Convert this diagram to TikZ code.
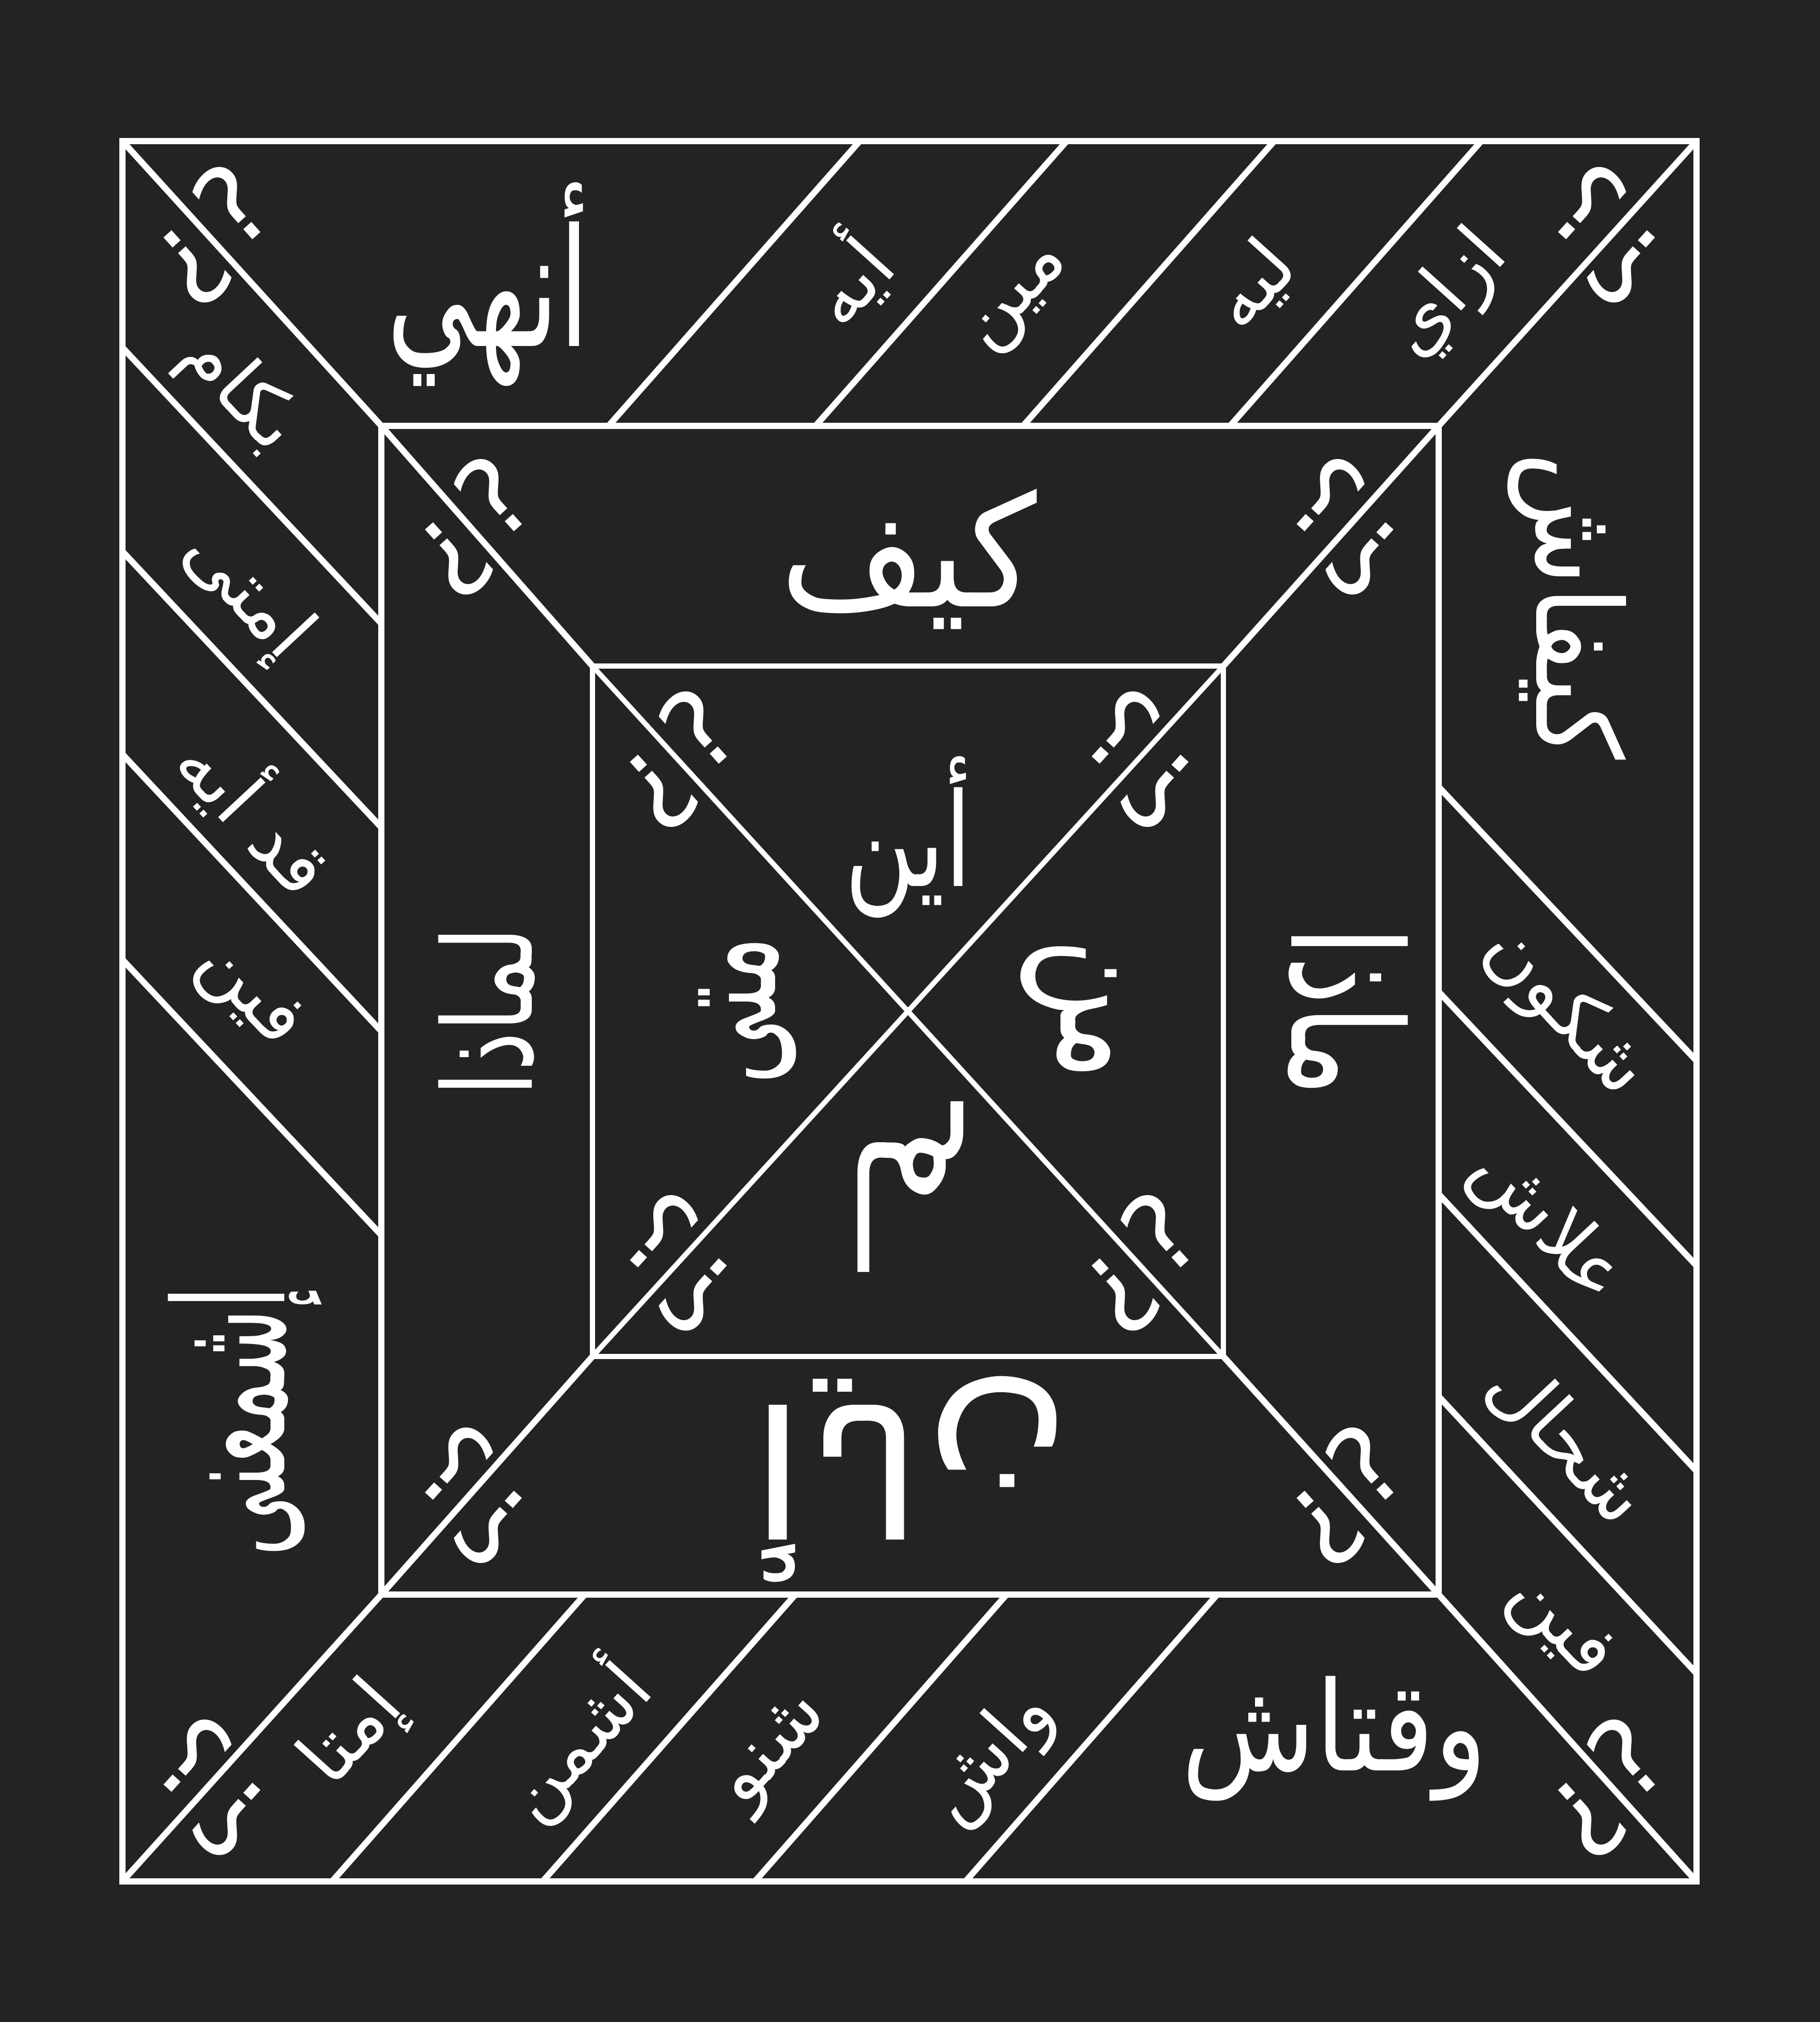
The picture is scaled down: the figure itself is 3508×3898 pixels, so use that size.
\documentclass[tikz,border=0pt]{standalone}
\usepackage{graphicx}
\usepackage{fontspec}
\newfontfamily\arabicfont[Script=Arabic]{DejaVu Sans}
\TeXXeTstate=1
\newcommand\artxt[1]{\beginR#1\endR}
\newcommand\sw[3]{\scalebox{#1}[#2]{\beginR#3\endR}}
\definecolor{bgc}{RGB}{35,35,35}
\tikzset{
  frameline/.style={draw=white, line width=3.4pt},
  innerline/.style={draw=white, line width=2.8pt},
  word/.style={text=white, inner sep=0pt, font=\arabicfont\fontsize{#1}{#1}\selectfont},
  qmark/.style={text=white, inner sep=0pt, font=\arabicfont\fontsize{60}{60}\selectfont, transform shape},
}
\newcommand\qpair[5]{%
  \begin{scope}[shift={(#2,#3)}, xscale=#4, yscale=#5, rotate=-42]
    \node[qmark] (#1a) at (-68,-20) {؟};
    \node[qmark, rotate=180] (#1b) at (68,20) {؟};
  \end{scope}}
\begin{document}
\begin{tikzpicture}[x=0.01cm,y=-0.01cm]
\fill[bgc] (0,0) rectangle (3508,3898);
\useasboundingbox (0,0) rectangle (3508,3898);
% frame corners
\coordinate (otl) at (236,272);  \coordinate (otr) at (3270,272);
\coordinate (obr) at (3270,3627); \coordinate (obl) at (236,3627);
\coordinate (mtl) at (735,821);  \coordinate (mtr) at (2773,821);
\coordinate (mbr) at (2773,3074); \coordinate (mbl) at (735,3074);
\coordinate (itl) at (1142,1284); \coordinate (itr) at (2358,1284);
\coordinate (ibr) at (2358,2615); \coordinate (ibl) at (1142,2615);
\coordinate (ic) at (1750,1950);
% stripes
\foreach \b/\t [count=\i] in {1173/1657,1572/2056,1972/2456,2371/2855}{
  \coordinate (tb\i) at (\b,821); \coordinate (tt\i) at (\t,272);
  \draw[frameline] (tb\i) -- (tt\i);}
\foreach \o/\m [count=\i] in {670/1202,1063/1595,1454/1988,1850/2381}{
  \coordinate (lo\i) at (236,\o); \coordinate (lm\i) at (735,\m);
  \draw[frameline] (lo\i) -- (lm\i);}
\foreach \m/\o [count=\i] in {1517/2045,1912/2440,2302/2836,2692/3226}{
  \coordinate (rm\i) at (2773,\m); \coordinate (ro\i) at (3270,\o);
  \draw[frameline] (rm\i) -- (ro\i);}
\foreach \m/\o [count=\i] in {1127/640,1533/1046,1940/1455,2346/1861}{
  \coordinate (bm\i) at (\m,3074); \coordinate (bo\i) at (\o,3627);
  \draw[frameline] (bm\i) -- (bo\i);}
% corner diagonals
\draw[frameline] (otl) -- (mtl) -- (itl);
\draw[frameline] (otr) -- (mtr) -- (itr);
\draw[frameline] (obr) -- (mbr) -- (ibr);
\draw[frameline] (obl) -- (mbl) -- (ibl);
\draw[innerline] (itl) -- (ibr);
\draw[innerline] (itr) -- (ibl);
% rectangles
\draw[frameline] (otl) rectangle (obr);
\draw[frameline] (mtl) rectangle (mbr);
\draw[innerline] (itl) rectangle (ibr);
% question mark pairs
\qpair{qo1}{3097}{453}{1}{1}
\qpair{qo2}{409}{453}{-1}{1}
\qpair{qo3}{3097}{3446}{1}{-1}
\qpair{qo4}{409}{3446}{-1}{-1}
\qpair{qm1}{2593}{1016}{1}{1}
\qpair{qm2}{913}{1016}{-1}{1}
\qpair{qm3}{2593}{2883}{1}{-1}
\qpair{qm4}{913}{2883}{-1}{-1}
\qpair{qi1}{2198}{1464}{1}{1}
\qpair{qi2}{1308}{1464}{-1}{1}
\qpair{qi3}{2198}{2435}{1}{-1}
\qpair{qi4}{1308}{2435}{-1}{-1}
% big corner words
\node[word=62] (anhy) at (941,548) {\sw{0.97}{1.45}{أنهي}};
\node[word=60, rotate=-90] (kayfash) at (3020,1168) {\sw{1}{1.08}{كيفاش}};
\node[word=62] (waqtash) at (2572,3352) {\sw{0.97}{1.1}{وقتاش}};
\node[word=56, rotate=90] (ishmaana) at (472,2740) {\sw{0.8}{1.5}{إشمعنى}};
% top band
\node[word=42, rotate=48] (ayh) at (1632,537) {\artxt{أيه}};
\node[word=42, rotate=48] (meen) at (1976,587) {\artxt{مين}};
\node[word=42, rotate=48] (leeh) at (2416,551) {\artxt{ليه}};
\node[word=42, rotate=48] (izzay) at (2792,570) {\artxt{ازاي}};
% left band
\node[word=42, rotate=-47] (bikam) at (460,757) {\artxt{بكام}};
\node[word=42, rotate=-47] (imta) at (473,1146) {\artxt{إمتى}};
\node[word=42, rotate=-47] (addeh) at (497,1565) {\artxt{قد أيه}};
\node[word=42, rotate=-47] (feenl) at (476,1921) {\artxt{فين}};
% right band
\node[word=42, rotate=-47] (shkoun) at (3015,1950) {\artxt{شكون}};
\node[word=42, rotate=-47] (alash) at (2980,2362) {\artxt{علاش}};
\node[word=42, rotate=-47] (shhal) at (3020,2781) {\artxt{شحال}};
\node[word=42, rotate=-47] (feenr) at (3003,3140) {\artxt{فين}};
% bottom band
\node[word=42, rotate=48] (imtaa) at (682,3346) {\artxt{إمتا}};
\node[word=40, rotate=48] (ashmen) at (1109,3355) {\artxt{أشمن}};
\node[word=42, rotate=48] (shnu) at (1496,3380) {\artxt{شنو}};
\node[word=42, rotate=48] (wash) at (1911,3388) {\artxt{واش}};
% middle band
\node[word=72] (kayf) at (1751,1078) {\sw{1.08}{1.18}{كيف}};
\node[word=60, rotate=-90] (matha) at (2598,1950) {\sw{1}{1.4}{ماذا}};
\node[word=54, rotate=90] (limatha) at (938,1950) {\sw{0.9}{1.25}{لماذا}};
\node[word=76, rotate=180] (ayyan) at (1755,2852) {\sw{1.45}{1.28}{أيان}};
% inner square
\node[word=62] (ayna) at (1751,1614) {\sw{0.85}{1.15}{أين}};
\node[word=60, rotate=-90] (man) at (2060,1946) {\sw{1}{1.5}{من}};
\node[word=72, rotate=180] (lima) at (1752,2288) {\sw{1}{1.3}{لم}};
\node[word=54, rotate=90] (mata) at (1440,1948) {\sw{0.9}{1.6}{متى}};
\end{tikzpicture}
\end{document}
